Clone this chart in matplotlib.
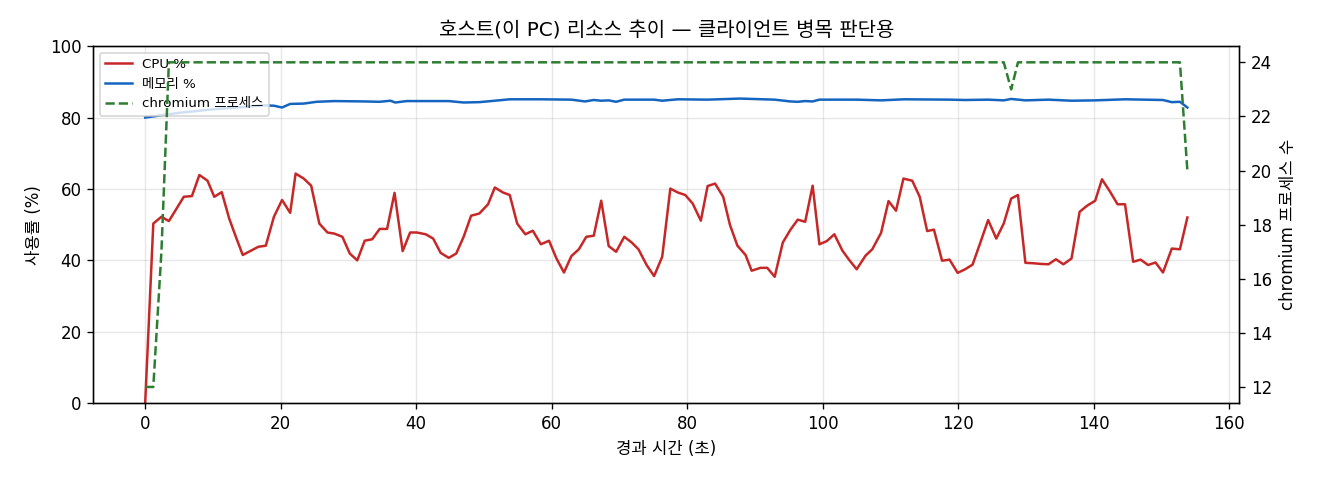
import matplotlib
matplotlib.use("Agg")
import matplotlib.pyplot as plt

plt.rcParams["font.family"] = ["DejaVu Sans", "Noto Sans CJK KR"]

# --- CPU % (elapsed seconds, value) ---
cpu_t = [0, 1.2, 2.4, 3.5, 5.7, 6.9, 8.0, 9.2, 10.2, 11.3, 12.4, 13.4, 14.4, 15.6,
         16.7, 17.8, 19.0, 20.2, 21.4, 22.2, 23.4, 24.5, 25.7, 26.9, 27.9, 29.1,
         30.2, 31.3, 32.4, 33.5, 34.6, 35.7, 36.8, 38.0, 39.1, 40.1, 41.4, 42.5,
         43.6, 44.8, 45.9, 47.0, 48.1, 49.3, 50.6, 51.6, 52.8, 53.8, 54.9, 56.1,
         57.2, 58.4, 59.6, 60.7, 61.8, 62.9, 64.0, 65.1, 66.2, 67.3, 68.4, 69.5,
         70.7, 71.8, 72.8, 74.0, 75.1, 76.3, 77.5, 78.6, 79.7, 80.8, 82.0, 83.0,
         84.1, 85.3, 86.3, 87.4, 88.6, 89.5, 90.8, 91.8, 92.9, 94.1, 95.2, 96.3,
         97.4, 98.5, 99.5, 100.6, 101.7, 102.9, 103.9, 105.0, 106.3, 107.3, 108.6,
         109.7, 110.8, 111.9, 113.2, 114.3, 115.4, 116.4, 117.6, 118.7, 119.9,
         121.0, 122.1, 123.2, 124.4, 125.6, 126.7, 127.8, 128.8, 129.9, 131.0,
         132.2, 133.3, 134.4, 135.5, 136.7, 137.9, 139.0, 140.2, 141.2, 142.4,
         143.5, 144.6, 145.8, 146.9, 148.0, 149.1, 150.2, 151.5, 152.7, 153.8]
cpu_pct = [0, 50.3, 52.2, 51.0, 57.8, 58.0, 63.9, 62.3, 57.8, 59.1, 51.7, 46.5, 41.5, 42.7,
           43.8, 44.1, 52.2, 56.9, 53.3, 64.3, 62.9, 60.9, 50.3, 47.8, 47.5, 46.6,
           41.9, 40.0, 45.5, 45.9, 48.8, 48.8, 58.9, 42.6, 47.8, 47.8, 47.3, 46.1,
           42.1, 40.7, 41.9, 46.6, 52.5, 53.1, 55.7, 60.4, 59.0, 58.3, 50.3, 47.3,
           48.3, 44.5, 45.5, 40.5, 36.6, 41.2, 43.1, 46.6, 46.9, 56.7, 44.0, 42.4,
           46.6, 45.0, 43.1, 38.7, 35.6, 41.0, 60.1, 59.0, 58.3, 55.9, 51.1, 60.8,
           61.5, 57.8, 49.9, 44.1, 41.5, 37.1, 37.9, 37.9, 35.4, 45.0, 48.5, 51.4,
           50.8, 60.9, 44.5, 45.4, 47.3, 42.7, 40.1, 37.5, 41.3, 43.1, 47.7,
           56.6, 53.9, 62.9, 62.3, 57.8, 48.2, 48.6, 39.9, 40.2, 36.5,
           37.5, 38.8, 44.7, 51.3, 46.1, 50.3, 57.3, 58.3, 39.3, 39.2,
           39.0, 38.9, 40.3, 38.9, 40.5, 53.6, 55.3, 56.7, 62.7, 59.2,
           55.7, 55.7, 39.6, 40.2, 38.7, 39.4, 36.6, 43.3, 43.1, 52.0]

# --- memory % ---
mem_t = [0, 5.0, 10.0, 15.0, 17.5, 19.0, 20.2, 21.4, 23.4, 25.3, 27.9, 32.3, 34.6,
         36.2, 36.9, 38.6, 44.8, 47.0, 49.3, 51.6, 53.8, 58.4, 62.9, 64.9, 66.2,
         67.3, 68.4, 69.5, 70.7, 75.1, 76.3, 78.6, 83.0, 87.8, 92.9, 95.2, 96.3,
         97.4, 98.5, 99.5, 105.0, 108.6, 112.0, 118.7, 121.0, 124.4, 126.7, 127.8,
         129.9, 133.3, 136.7, 140.2, 144.6, 150.2, 151.5, 152.7, 153.8]
mem_pct = [80.0, 81.3, 82.3, 83.0, 83.4, 83.3, 82.8, 83.8, 83.9, 84.4, 84.6, 84.5, 84.4,
           84.7, 84.2, 84.6, 84.6, 84.2, 84.3, 84.7, 85.1, 85.1, 85.0, 84.5, 84.9,
           84.7, 84.8, 84.4, 85.0, 85.0, 84.7, 85.1, 85.0, 85.3, 85.0, 84.5, 84.4,
           84.6, 84.5, 85.0, 85.0, 84.8, 85.1, 85.0, 84.9, 85.0, 84.8, 85.2,
           84.8, 85.0, 84.7, 84.8, 85.1, 84.9, 84.3, 84.4, 82.8]

# --- chromium process count ---
proc_t = [0, 1.2, 2.4, 3.5, 126.7, 127.8, 128.8, 152.7, 153.8]
proc_n = [12, 12, 17, 24, 24, 23, 24, 24, 20]

fig, ax = plt.subplots(figsize=(11, 4), dpi=120)
ax2 = ax.twinx()

l1, = ax.plot(cpu_t, cpu_pct, color="#c62828", linewidth=1.5, label="CPU %")
l2, = ax.plot(mem_t, mem_pct, color="#1565c0", linewidth=1.5, label="메모리 %")
l3, = ax2.plot(proc_t, proc_n, color="#2e7d32", linewidth=1.5, linestyle="--",
               label="chromium 프로세스")

ax.set_ylim(0, 100)
ax.set_xlabel("경과 시간 (초)")
ax.set_ylabel("사용률 (%)")
ax2.set_ylabel("chromium 프로세스 수")
ax.set_title("호스트(이 PC) 리소스 추이 — 클라이언트 병목 판단용")
ax.grid(alpha=0.3)
ax.legend(handles=[l1, l2, l3], loc="upper left", fontsize=8)

fig.subplots_adjust(left=0.0705, right=0.939, top=0.904, bottom=0.16)
fig.savefig("out.png", dpi=120)
